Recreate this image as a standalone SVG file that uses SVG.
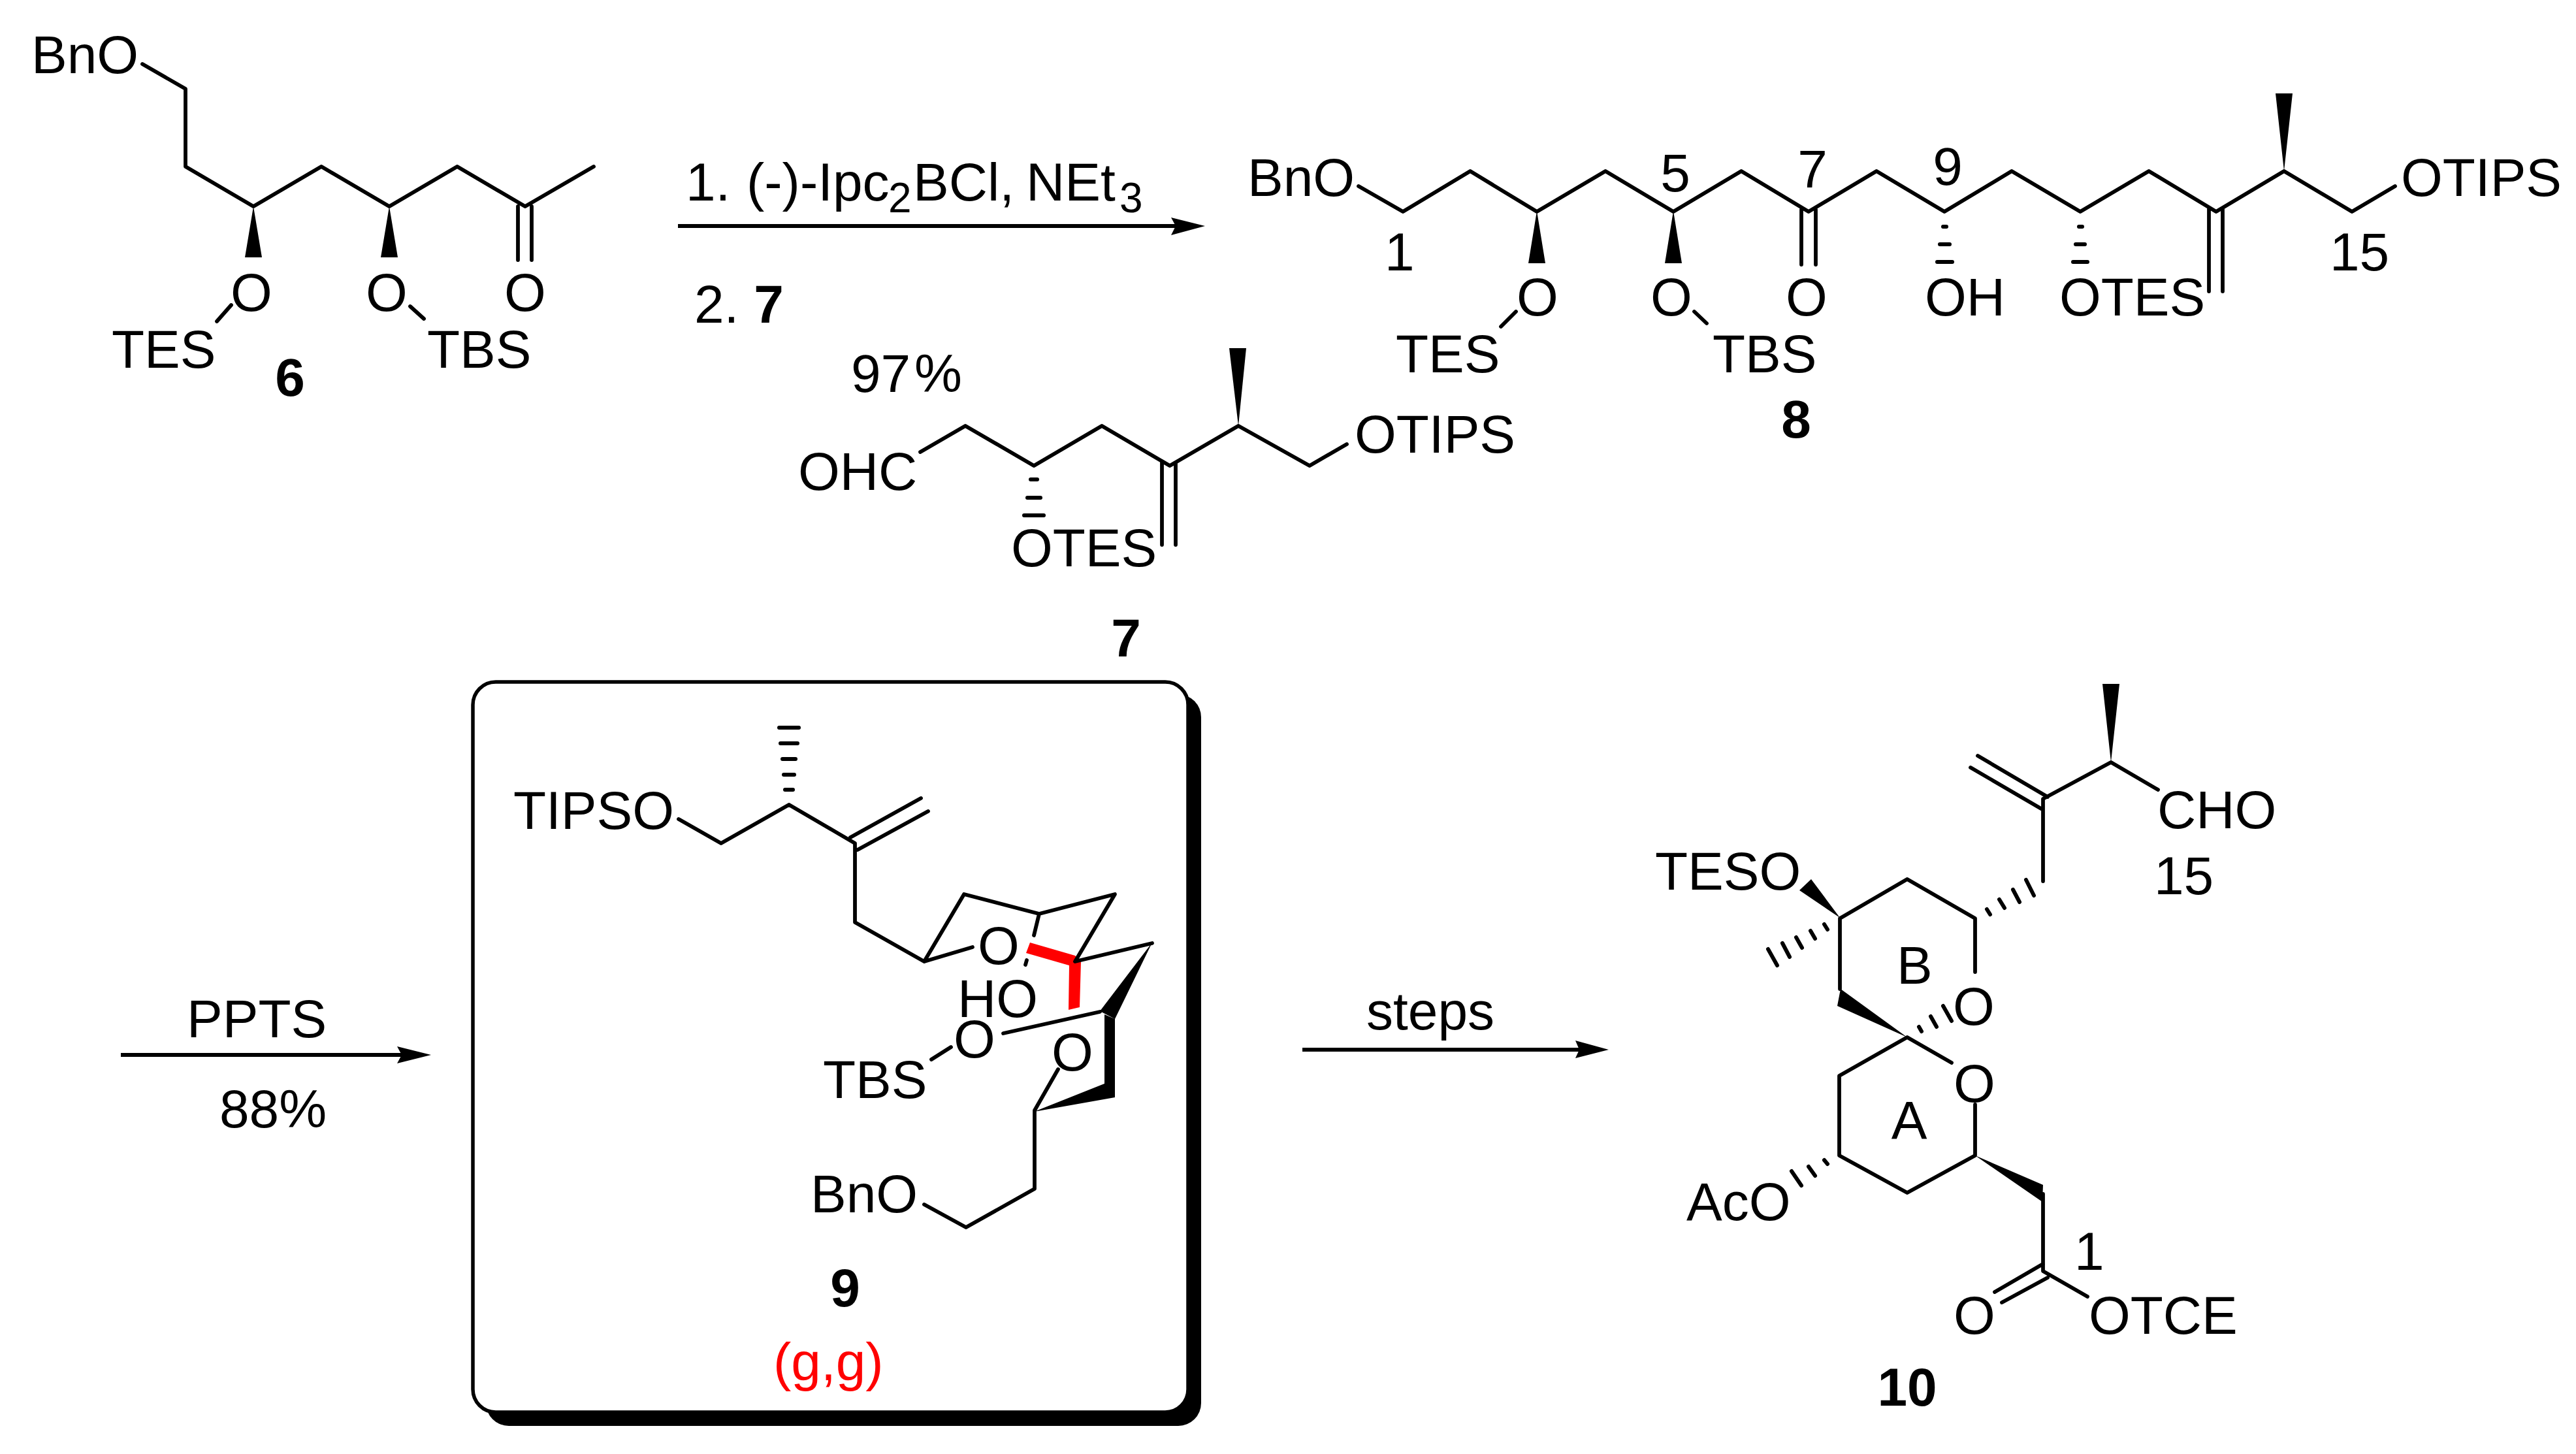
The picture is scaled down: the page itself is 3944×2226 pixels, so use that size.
<svg xmlns="http://www.w3.org/2000/svg" width="3944" height="2226" viewBox="0 0 3944 2226">
<style>
text{font-family:"Liberation Sans",Arial,sans-serif;font-size:82px;fill:#000}
.c{text-anchor:middle}
.n{font-weight:bold}
.red{fill:#f00}
.b{fill:none;stroke:#000;stroke-width:5.8;stroke-linecap:round;stroke-linejoin:round}
.h{fill:none;stroke:#000;stroke-width:6;stroke-linecap:round}
.w{fill:#000;stroke:none}
.a{fill:none;stroke:#000;stroke-width:6}
.f{fill:#f00;stroke:none}
</style>
<rect width="3944" height="2226" fill="#fff"/>
<g id="compound-6">
<path class="b" d="M218 98L284 136V255L388 316L492 255L596 316L700 255L804 316L909 255M793 316V398M814 316V398M354 467L332 492M628 469L649 488"/>
<path class="w" d="M388 316L375 394H401ZM596 316L583 394H609Z"/>
<text x="48" y="112">BnO</text>
<text x="385" y="476" class="c">O</text><text x="592" y="476" class="c">O</text><text x="804" y="476" class="c">O</text>
<text x="171" y="563">TES</text><text x="654" y="563">TBS</text>
<text x="444" y="606" class="c n">6</text>
</g>
<g id="connectors">
<path class="a" d="M1038 346H1800M185 1615H615M1994 1607H2418"/>
<path class="w" d="M1845 346L1793 333L1800 346L1793 360ZM660 1615L608 1602L615 1615L608 1628ZM2463 1607L2412 1593L2418 1607L2412 1620Z"/>
</g>
<g id="reagents">
<text y="307"><tspan x="1050">1.</tspan><tspan x="1143">(-)-Ipc</tspan><tspan x="1360" y="325" font-size="64">2</tspan><tspan x="1398" y="307">BCl,</tspan><tspan x="1571">NEt</tspan><tspan x="1714" y="325" font-size="64">3</tspan></text>
<text x="1063" y="494">2. <tspan class="n">7</tspan></text>
<text y="600"><tspan x="1303">97</tspan><tspan x="1400">%</tspan></text>
<text x="286" y="1588">PPTS</text><text x="336" y="1726">88%</text>
<text x="2092" y="1576">steps</text>
</g>
<g id="compound-7">
<path class="b" d="M1409 692L1478 652L1583 713L1687 652L1791 713L1896 652L2005 713L2062 680M1779 708V834M1800 708V834"/>
<path class="h" d="M1578 734H1588M1573 762H1593M1568 789H1598"/>
<path class="w" d="M1896 652L1882 533H1908Z"/>
<text x="1222" y="750">OHC</text><text x="1548" y="867">OTES</text><text x="2074" y="693">OTIPS</text>
<text x="1724" y="1005" class="c n">7</text>
</g>
<g id="compound-8">
<path class="b" d="M2080 285L2148 324L2251 262L2353 324L2458 262L2562 324L2666 262L2769 324L2873 262L2977 324L3080 262L3185 324L3290 262L3393 324L3497 262L3601 324L3667 285M2758 321V405M2780 321V405M3382 319V446M3403 319V446M2321 477L2298 500M2594 477L2613 495"/>
<path class="h" d="M2975 347H2980M2970 374H2985M2966 401H2989M3183 347H3188M3178 374H3192M3174 401H3196"/>
<path class="w" d="M2353 323L2340 403H2366ZM2562 323L2549 403H2575ZM3497 262L3484 143H3510Z"/>
<text x="1910" y="300">BnO</text><text x="3676" y="300">OTIPS</text>
<text x="2565" y="293" class="c">5</text><text x="2775" y="287" class="c">7</text><text x="2982" y="283" class="c">9</text>
<text x="2120" y="414">1</text><text x="3567" y="414">15</text>
<text x="2354" y="483" class="c">O</text><text x="2559" y="483" class="c">O</text><text x="2766" y="483" class="c">O</text>
<text x="2947" y="483">OH</text><text x="3153" y="483">OTES</text>
<text x="2137" y="570">TES</text><text x="2622" y="570">TBS</text>
<text x="2750" y="670" class="c n">8</text>
</g>
<g id="compound-9">
<rect x="744" y="1063" width="1095" height="1120" rx="35" fill="#000"/>
<rect x="724" y="1044" width="1095" height="1118" rx="35" fill="#fff" stroke="#000" stroke-width="5.5"/>
<path class="f" d="M1577 1443L1571 1459L1637 1478L1636 1546L1653 1542L1655 1472L1646 1463Z"/>
<path class="b" d="M1039 1254L1104 1291L1208 1232L1309 1291V1412L1415 1472L1476 1369L1591 1399L1707 1369L1646 1472L1764 1444M1302 1282L1410 1222M1313 1301L1421 1242M1415 1472L1489 1450M1591 1399L1583 1432M1572 1470L1570 1477M1536 1582L1684 1549M1426 1622L1456 1603M1620 1637L1584 1700V1820L1479 1879L1415 1844"/>
<path class="h" d="M1202 1209H1214M1200 1186H1216M1198 1162H1218M1195 1138H1221M1193 1114H1223"/>
<path class="w" d="M1764 1443L1684 1548L1707 1560ZM1691 1553L1707 1560V1680L1691 1659ZM1691 1659L1707 1680L1583 1702Z"/>
<text x="786" y="1269">TIPSO</text><text x="1529" y="1476" class="c">O</text><text x="1466" y="1557">HO</text>
<text x="1492" y="1619" class="c">O</text><text x="1642" y="1639" class="c">O</text>
<text x="1260" y="1681">TBS</text><text x="1241" y="1856">BnO</text>
<text x="1294" y="2000" class="c n">9</text><text x="1184" y="2113" class="red">(g,g)</text>
</g>
<g id="compound-10">
<path class="b" d="M3304 1209L3232 1167L3128 1223V1349M3028 1157L3135 1220M3017 1175L3125 1238M3024 1488V1406L2920 1346L2817 1406V1514M2988 1627L2920 1588L2816 1647V1769L2920 1826L3024 1769V1691M3128 1828V1946L3196 1985M3128 1935L3054 1978M3135 1956L3065 1994"/>
<path class="h" d="M2793 1415L2798 1423M2772 1425L2779 1437M2750 1435L2759 1451M2729 1444L2740 1465M2707 1453L2721 1478M3042 1392L3047 1400M3061 1377L3069 1390M3082 1362L3092 1381M3102 1347L3114 1371M2938 1572L2942 1579M2956 1556L2965 1572M2975 1540L2988 1563M2793 1776L2798 1782M2769 1786L2779 1800M2743 1793L2758 1815"/>
<path class="w" d="M3232 1167L3219 1047H3245ZM2817 1405L2773 1346L2755 1363ZM2920 1588L2818 1514L2813 1540ZM3024 1769L3128 1814L3127 1840Z"/>
<text x="3303" y="1268">CHO</text><text x="3298" y="1369">15</text>
<text x="2534" y="1362">TESO</text><text x="3022" y="1569" class="c">O</text><text x="3023" y="1687" class="c">O</text>
<text x="2904" y="1506">B</text><text x="2923" y="1743" class="c">A</text>
<text x="2582" y="1868">AcO</text><text x="3176" y="1944">1</text>
<text x="3023" y="2042" class="c">O</text><text x="3198" y="2042">OTCE</text>
<text x="2920" y="2152" class="c n">10</text>
</g>
</svg>
